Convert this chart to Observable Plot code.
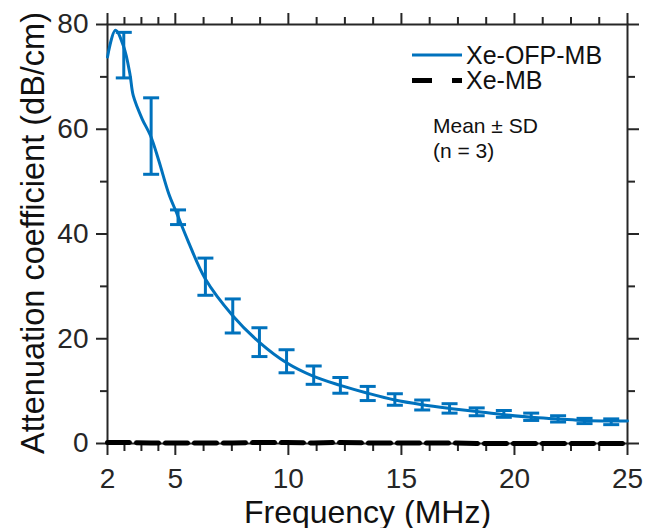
<!DOCTYPE html>
<html>
<head>
<meta charset="utf-8">
<script src="https://cdn.jsdelivr.net/npm/d3@7"></script>
<script src="https://cdn.jsdelivr.net/npm/@observablehq/plot@0.6"></script>
<style>
  html, body { margin: 0; padding: 0; background: #fff; }
  #chart { position: relative; width: 646px; height: 528px; font-family: "Liberation Sans", Arial, Helvetica, sans-serif; }
  #chart svg.overlay { position: absolute; left: 0; top: 0; pointer-events: none; }
</style>
</head>
<body>
<div id="chart"></div>
<script>
// ---- Data ----
// Xe-OFP-MB attenuation curve (MHz, dB/cm)
const curveFreq  = [2.0, 2.35, 2.72, 2.99, 3.14, 3.53, 3.90, 4.27, 4.71, 5.08, 5.55, 6.33, 7.54, 8.72, 9.92, 11.12, 12.3, 13.51, 14.71, 15.92, 17.13, 18.33, 19.53, 20.74, 21.93, 23.1, 24.28, 25.0];
const curveAtten = [73.8, 78.9, 75.7, 70.6, 66.4, 62.0, 58.8, 54.0, 47.7, 43.8, 38.8, 31.4, 24.4, 19.3, 15.4, 12.8, 11.1, 9.6, 8.3, 7.4, 6.7, 6.1, 5.5, 5.0, 4.7, 4.4, 4.3, 4.3];

// Error bars (Mean ± SD) for Xe-OFP-MB
const errFreq = [2.72, 3.93, 5.12, 6.33, 7.54, 8.72, 9.92, 11.12, 12.3, 13.51, 14.71, 15.92, 17.13, 18.33, 19.53, 20.74, 21.93, 23.1, 24.28];
const errLow  = [69.8, 51.4, 41.8, 28.3, 21.1, 16.6, 13.5, 11.3, 9.6, 8.2, 7.3, 6.4, 5.8, 5.3, 5.0, 4.4, 4.1, 3.8, 3.6];
const errHigh = [78.5, 66.0, 44.6, 35.4, 27.6, 22.1, 17.9, 14.8, 12.6, 10.9, 9.5, 8.3, 7.6, 6.8, 6.3, 5.8, 5.3, 4.8, 4.7];

// Xe-MB attenuation (near zero)
const mbFreq  = [2.0, 2.72, 3.93, 5.12, 6.33, 7.54, 8.72, 9.92, 11.12, 12.3, 13.51, 14.71, 15.92, 17.13, 18.33, 19.53, 20.74, 21.93, 23.1, 24.28, 25.0];
const mbAtten = [0.2, 0.2, 0.1, 0.1, 0.1, 0.1, 0.2, 0.2, 0.1, 0.2, 0.1, 0.1, 0.1, 0.1, 0.0, 0.0, 0.0, 0.0, 0.0, 0.0, 0.0];

// Ticks
const xMajorTicks = [2, 5, 10, 15, 20, 25];
const xMinorTicks = [2.75, 3.5, 4.25, 6.25, 7.5, 8.75, 11.25, 12.5, 13.75, 16.25, 17.5, 18.75, 21.25, 22.5, 23.75];
const yMajorTicks = [0, 20, 40, 60, 80];
const yMinorTicks = [10, 30, 50, 70];

// Texts
const xTitle = "Frequency (MHz)";
const yTitle = "Attenuation coefficient (dB/cm)";
const seriesNames = ["Xe-OFP-MB", "Xe-MB"];
const noteLines = ["Mean ± SD", "(n = 3)"];

// Colors
const blue = "#0072BD";
const black = "#000000";
const axisColor = "#262626";

// ---- Build tables ----
const curve = curveFreq.map((f, i) => ({f, a: curveAtten[i]}));
const errs = errFreq.map((f, i) => ({f, lo: errLow[i], hi: errHigh[i]}));
const mb = mbFreq.map((f, i) => ({f, a: mbAtten[i]}));

const capSymbol = {
  draw(ctx, size) {
    const r = Math.sqrt(size / Math.PI);
    ctx.moveTo(-r, 0);
    ctx.lineTo(r, 0);
  }
};

const noText = () => "";

const plot = Plot.plot({
  width: 646,
  height: 528,
  marginLeft: 107,
  marginRight: 19,
  marginTop: 24,
  marginBottom: 85,
  style: {
    fontFamily: '"Liberation Sans", Arial, Helvetica, sans-serif',
    fontSize: "28px",
    color: axisColor,
    background: "#fff",
    overflow: "visible"
  },
  x: {domain: [2, 25]},
  y: {domain: [0, 80]},
  marks: [
    // axes
    Plot.axisX({anchor: "bottom", ticks: xMajorTicks, tickSize: 12, tickPadding: 13, strokeWidth: 2, fontSize: 28, label: null}),
    Plot.axisX({anchor: "bottom", ticks: xMinorTicks, tickSize: 8, strokeWidth: 2, tickFormat: noText, label: null}),
    Plot.axisX({anchor: "top", ticks: xMajorTicks, tickSize: 12, strokeWidth: 2, tickFormat: noText, label: null}),
    Plot.axisX({anchor: "top", ticks: xMinorTicks, tickSize: 8, strokeWidth: 2, tickFormat: noText, label: null}),
    Plot.axisY({anchor: "left", ticks: yMajorTicks, tickSize: 11, tickPadding: 8, strokeWidth: 2, fontSize: 28, label: null}),
    Plot.axisY({anchor: "left", ticks: yMinorTicks, tickSize: 7, strokeWidth: 2, tickFormat: noText, label: null}),
    Plot.axisY({anchor: "right", ticks: yMajorTicks, tickSize: 11, strokeWidth: 2, tickFormat: noText, label: null}),
    Plot.axisY({anchor: "right", ticks: yMinorTicks, tickSize: 7, strokeWidth: 2, tickFormat: noText, label: null}),
    Plot.frame({stroke: axisColor, strokeWidth: 2}),
    // axis titles
    Plot.text([xTitle], {frameAnchor: "bottom", dy: 79, lineAnchor: "bottom", fontSize: 32, fill: "#111", text: d => d, textAnchor: "middle"}),
    Plot.text([yTitle], {frameAnchor: "left", dx: -64, dy: -1, rotate: -90, lineAnchor: "bottom", fontSize: 32.5, fill: "#111", text: d => d, textAnchor: "middle"}),
    // Xe-MB
    Plot.line(mb, {x: "f", y: "a", stroke: black, strokeWidth: 5, strokeDasharray: "22,7"}),
    // Xe-OFP-MB
    Plot.line(curve, {x: "f", y: "a", stroke: blue, strokeWidth: 3, curve: "catmull-rom"}),
    Plot.ruleX(errs, {x: "f", y1: "lo", y2: "hi", stroke: blue, strokeWidth: 3}),
    Plot.dot(errs, {x: "f", y: "lo", symbol: capSymbol, r: 8, stroke: blue, strokeWidth: 3, fill: "none"}),
    Plot.dot(errs, {x: "f", y: "hi", symbol: capSymbol, r: 8, stroke: blue, strokeWidth: 3, fill: "none"})
  ]
});

const chart = document.getElementById("chart");
chart.appendChild(plot);

// ---- Legend & note overlay ----
const ov = d3.select(chart).append("svg")
  .attr("class", "overlay")
  .attr("width", 646).attr("height", 528)
  .attr("font-family", '"Liberation Sans", Arial, Helvetica, sans-serif');

const legendStyles = [
  {stroke: blue, width: 3, dash: null},
  {stroke: black, width: 5, dash: "20,20"}
];
seriesNames.forEach((name, i) => {
  const y = 55 + i * 25.5;
  ov.append("line")
    .attr("x1", 412).attr("x2", 462).attr("y1", y).attr("y2", y)
    .attr("stroke", legendStyles[i].stroke)
    .attr("stroke-width", legendStyles[i].width)
    .attr("stroke-dasharray", legendStyles[i].dash);
  ov.append("text")
    .attr("x", 466).attr("y", y + 8.5)
    .attr("font-size", 25).attr("fill", "#111")
    .text(name);
});
noteLines.forEach((t, i) => {
  ov.append("text")
    .attr("x", 433).attr("y", 133 + i * 25)
    .attr("font-size", 21).attr("fill", "#111")
    .text(t);
});
</script>
</body>
</html>
